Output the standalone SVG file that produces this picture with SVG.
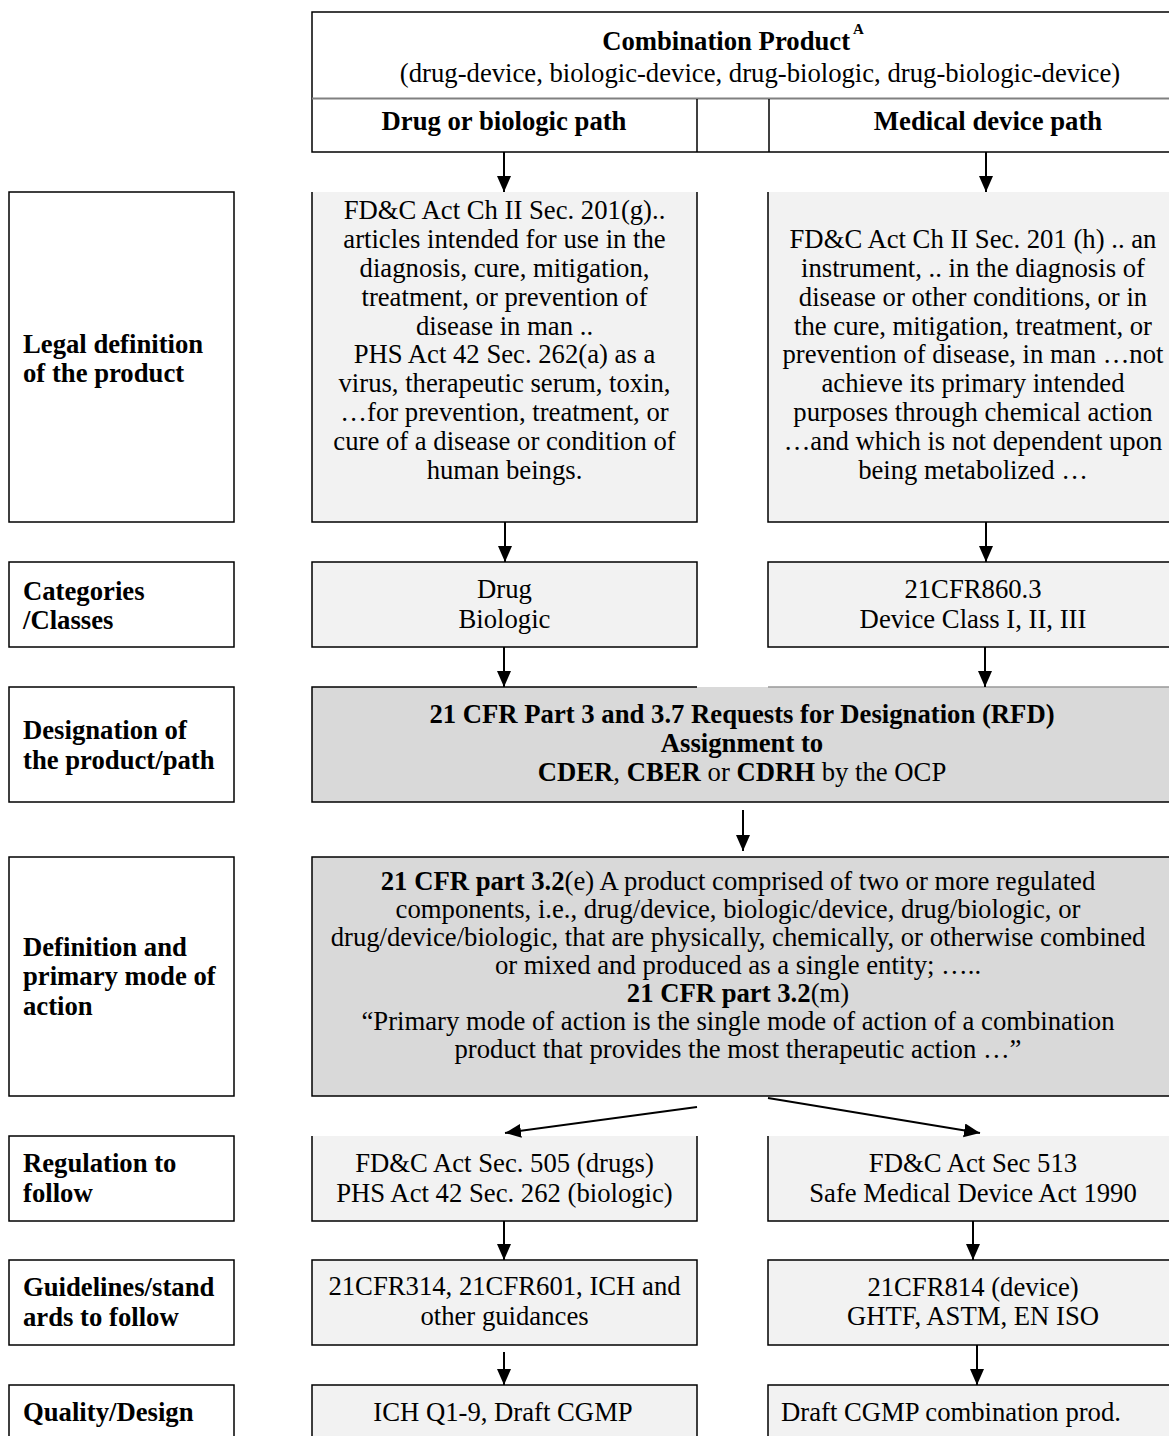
<svg xmlns="http://www.w3.org/2000/svg" width="1169" height="1436" viewBox="0 0 1169 1436">
<style>
text{font-family:"Liberation Serif","Times New Roman",serif;font-size:26.7px;fill:#000}
.c{text-anchor:middle}
.b{font-weight:bold}
.lab{fill:#fff;stroke:#000;stroke-width:1.5}
.g1{fill:#f2f2f2;stroke:#000;stroke-width:1.5}
.g2{fill:#d9d9d9;stroke:#000;stroke-width:1.5}
.fill1{fill:#f2f2f2;stroke:none}
.edge{fill:none;stroke:#000;stroke-width:1.5}
.conn line{stroke:#000;stroke-width:2;marker-end:url(#ah)}
</style>
<defs>
<marker id="ah" markerUnits="userSpaceOnUse" markerWidth="18" markerHeight="16" refX="16" refY="7" orient="auto">
<path d="M0,0 L16,7 L0,14 Z" fill="#000"/>
</marker>
</defs>
<rect width="1169" height="1436" fill="#fff"/>

<g id="header">
<rect x="312" y="12" width="880" height="140" fill="#fff" stroke="#000" stroke-width="1.5"/>
<line x1="312" y1="98.5" x2="1192" y2="98.5" stroke="#808080" stroke-width="2"/>
<line x1="697" y1="99" x2="697" y2="152" stroke="#000" stroke-width="1.5"/>
<line x1="769" y1="99" x2="769" y2="152" stroke="#000" stroke-width="1.5"/>
<text class="c b" x="733" y="50">Combination Product<tspan font-size="15" dy="-16"> A</tspan></text>
<text class="c" x="760" y="82" font-size="28">(drug-device, biologic-device, drug-biologic, drug-biologic-device)</text>
<text class="c b" x="504" y="130">Drug or biologic path</text>
<text class="c b" x="988" y="130">Medical device path</text>
</g>

<g id="label-legal"><rect class="lab" x="9" y="192" width="225" height="330"/>
<text class="b" x="23" y="353">Legal definition</text><text class="b" x="23" y="382">of the product</text></g>
<g id="label-categories"><rect class="lab" x="9" y="562" width="225" height="85"/>
<text class="b" x="23" y="600">Categories</text><text class="b" x="23" y="629">/Classes</text></g>
<g id="label-designation"><rect class="lab" x="9" y="687" width="225" height="115"/>
<text class="b" x="23" y="739">Designation of</text><text class="b" x="23" y="769">the product/path</text></g>
<g id="label-definition"><rect class="lab" x="9" y="857" width="225" height="239"/>
<text class="b" x="23" y="956">Definition and</text><text class="b" x="23" y="985">primary mode of</text><text class="b" x="23" y="1015">action</text></g>
<g id="label-regulation"><rect class="lab" x="9" y="1136" width="225" height="85"/>
<text class="b" x="23" y="1172">Regulation to</text><text class="b" x="23" y="1202">follow</text></g>
<g id="label-guidelines"><rect class="lab" x="9" y="1260" width="225" height="85"/>
<text class="b" x="23" y="1296">Guidelines/stand</text><text class="b" x="23" y="1326">ards to follow</text></g>
<g id="label-quality"><rect class="lab" x="9" y="1385" width="225" height="60"/>
<text class="b" x="23" y="1421">Quality/Design</text></g>

<g id="legal-drug">
<rect class="fill1" x="312" y="192" width="385" height="330"/>
<path class="edge" d="M312,192 V522 H697 V192"/>
<text class="c" x="504.5"><tspan x="504.5" y="219">FD&amp;C Act Ch II Sec. 201(g)..</tspan><tspan x="504.5" y="248">articles intended for use in the</tspan><tspan x="504.5" y="277">diagnosis, cure, mitigation,</tspan><tspan x="504.5" y="306">treatment, or prevention of</tspan><tspan x="504.5" y="335">disease in man ..</tspan><tspan x="504.5" y="363">PHS Act 42 Sec. 262(a) as a</tspan><tspan x="504.5" y="392">virus, therapeutic serum, toxin,</tspan><tspan x="504.5" y="421">…for prevention, treatment, or</tspan><tspan x="504.5" y="450">cure of a disease or condition of</tspan><tspan x="504.5" y="479">human beings.</tspan></text>
</g>
<g id="legal-device">
<rect class="fill1" x="768" y="192" width="420" height="330"/>
<path class="edge" d="M768,192 V522 H1190"/>
<text class="c"><tspan x="973" y="248">FD&amp;C Act Ch II Sec. 201 (h) .. an</tspan><tspan x="973" y="277">instrument, .. in the diagnosis of</tspan><tspan x="973" y="306">disease or other conditions, or in</tspan><tspan x="973" y="335">the cure, mitigation, treatment, or</tspan><tspan x="973" y="363">prevention of disease, in man …not</tspan><tspan x="973" y="392">achieve its primary intended</tspan><tspan x="973" y="421">purposes through chemical action</tspan><tspan x="973" y="450">…and which is not dependent upon</tspan><tspan x="973" y="479">being metabolized …</tspan></text>
</g>

<g id="cat-drug"><rect class="g1" x="312" y="562" width="385" height="85"/>
<text class="c" x="504.5" y="598">Drug</text><text class="c" x="504.5" y="628">Biologic</text></g>
<g id="cat-device"><rect class="g1" x="768" y="562" width="420" height="85"/>
<text class="c" x="973" y="598">21CFR860.3</text><text class="c" x="973" y="628">Device Class I, II, III</text></g>

<g id="designation">
<rect fill="#d9d9d9" x="312" y="687" width="880" height="115"/>
<path class="edge" d="M697,687 H312 V802 H1192"/>
<line x1="768" y1="687" x2="1192" y2="687" stroke="#999" stroke-width="1.5"/>
<text class="c b" x="742" y="723">21 CFR Part 3 and 3.7 Requests for Designation (RFD)</text>
<text class="c b" x="742" y="752">Assignment to</text>
<text class="c" x="742" y="781"><tspan class="b">CDER</tspan>, <tspan class="b">CBER</tspan> or <tspan class="b">CDRH</tspan> by the OCP</text>
</g>

<g id="definition">
<rect class="g2" x="312" y="857" width="880" height="239"/>
<text class="c" x="738" y="890"><tspan class="b">21 CFR part 3.2</tspan>(e) A product comprised of two or more regulated</text>
<text class="c" x="738" y="918">components, i.e., drug/device, biologic/device, drug/biologic, or</text>
<text class="c" x="738" y="946">drug/device/biologic, that are physically, chemically, or otherwise combined</text>
<text class="c" x="738" y="974">or mixed and produced as a single entity; …..</text>
<text class="c" x="738" y="1002"><tspan class="b">21 CFR part 3.2</tspan>(m)</text>
<text class="c" x="738" y="1030">“Primary mode of action is the single mode of action of a combination</text>
<text class="c" x="738" y="1058">product that provides the most therapeutic action …”</text>
</g>

<g id="reg-drug">
<rect class="fill1" x="312" y="1136" width="385" height="85"/>
<path class="edge" d="M312,1136 V1221 H697 V1136"/>
<text class="c" x="504.5" y="1172">FD&amp;C Act Sec. 505 (drugs)</text>
<text class="c" x="504.5" y="1202">PHS Act 42 Sec. 262 (biologic)</text>
</g>
<g id="reg-device">
<rect class="fill1" x="768" y="1136" width="420" height="85"/>
<path class="edge" d="M768,1136 V1221 H1190"/>
<text class="c" x="973" y="1172">FD&amp;C Act Sec 513</text>
<text class="c" x="973" y="1202">Safe Medical Device Act 1990</text>
</g>

<g id="guide-drug"><rect class="g1" x="312" y="1260" width="385" height="85"/>
<text class="c" x="504.5" y="1295">21CFR314, 21CFR601, ICH and</text>
<text class="c" x="504.5" y="1325">other guidances</text></g>
<g id="guide-device"><rect class="g1" x="768" y="1260" width="420" height="85"/>
<text class="c" x="973" y="1296">21CFR814 (device)</text>
<text class="c" x="973" y="1325" font-size="24">GHTF, ASTM, EN ISO</text></g>

<g id="quality-drug"><rect class="g1" x="312" y="1385" width="385" height="60"/>
<text class="c" x="503" y="1421" font-size="25">ICH Q1-9, Draft CGMP</text></g>
<g id="quality-device"><rect class="g1" x="768" y="1385" width="420" height="60"/>
<text x="781" y="1421">Draft CGMP combination prod.</text></g>

<g id="connectors" class="conn">
<line x1="504" y1="152" x2="504" y2="192"/>
<line x1="986" y1="152" x2="986" y2="192"/>
<line x1="505" y1="522" x2="505" y2="562"/>
<line x1="986" y1="522" x2="986" y2="562"/>
<line x1="504" y1="647" x2="504" y2="687"/>
<line x1="985" y1="647" x2="985" y2="687"/>
<line x1="743" y1="810" x2="743" y2="851"/>
<line x1="697" y1="1107" x2="505" y2="1133"/>
<line x1="768" y1="1098" x2="980" y2="1133"/>
<line x1="504" y1="1221" x2="504" y2="1260"/>
<line x1="973" y1="1221" x2="973" y2="1260"/>
<line x1="504" y1="1352" x2="504" y2="1385"/>
<line x1="977" y1="1345" x2="977" y2="1385"/>
</g>
</svg>
